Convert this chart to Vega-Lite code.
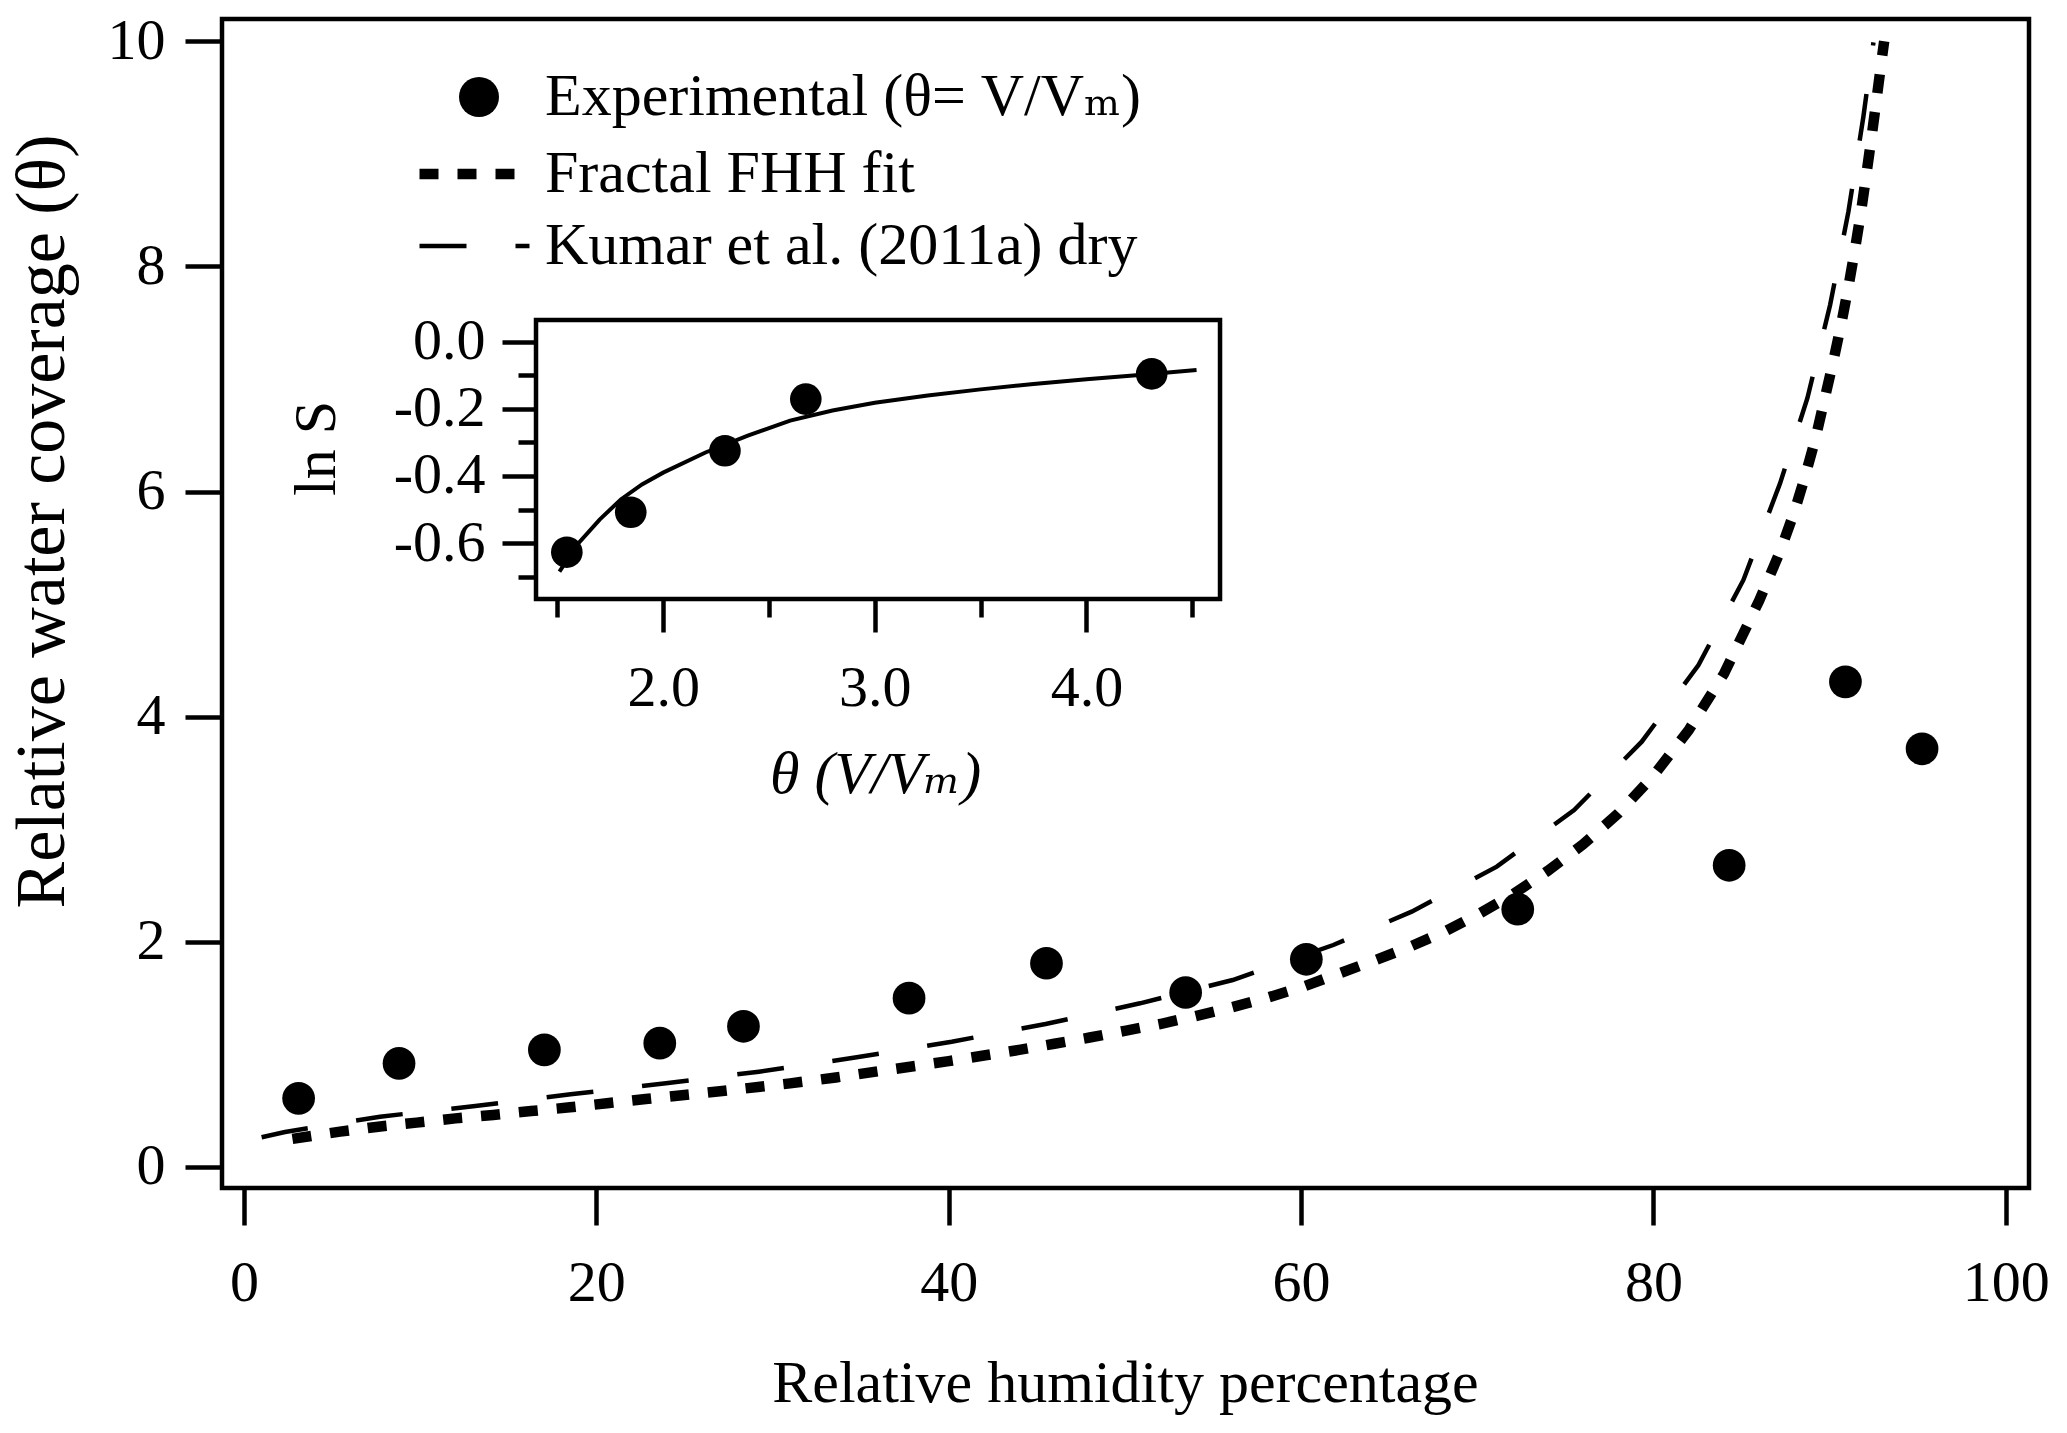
{
  "$schema": "https://vega.github.io/schema/vega-lite/v6.json",
  "width": 1807,
  "height": 1169,
  "autosize": {"type": "none"},
  "padding": {"left": 222, "top": 19, "right": 38, "bottom": 245},
  "background": "white",
  "config": {
    "font": "Liberation Serif, DejaVu Serif, serif",
    "view": {"stroke": "black", "strokeWidth": 4.5},
    "axis": {
      "domain": false,
      "grid": false,
      "tickColor": "black",
      "tickWidth": 4.5,
      "labelFont": "Liberation Serif, DejaVu Serif, serif",
      "labelFontSize": 58,
      "labelColor": "black",
      "labelOverlap": false,
      "labelFlush": false,
      "titleFont": "Liberation Serif, DejaVu Serif, serif",
      "titleFontSize": 60,
      "titleFontWeight": "normal",
      "titleColor": "black"
    },
    "legend": {
      "labelFont": "Liberation Serif, DejaVu Serif, serif",
      "labelFontSize": 60,
      "labelColor": "black",
      "labelLimit": 0,
      "padding": 0
    }
  },
  "datasets": {
    "experimental": [
      {"rh": 3.1, "coverage": 0.61, "series": "exp"},
      {"rh": 8.8, "coverage": 0.92, "series": "exp"},
      {"rh": 17.05, "coverage": 1.04, "series": "exp"},
      {"rh": 23.6, "coverage": 1.1, "series": "exp"},
      {"rh": 28.35, "coverage": 1.25, "series": "exp"},
      {"rh": 37.75, "coverage": 1.5, "series": "exp"},
      {"rh": 45.55, "coverage": 1.81, "series": "exp"},
      {"rh": 53.45, "coverage": 1.55, "series": "exp"},
      {"rh": 60.3, "coverage": 1.845, "series": "exp"},
      {"rh": 72.3, "coverage": 2.29, "series": "exp"},
      {"rh": 84.3, "coverage": 2.68, "series": "exp"},
      {"rh": 90.9, "coverage": 4.31, "series": "exp"},
      {"rh": 95.25, "coverage": 3.715, "series": "exp"}
    ],
    "fits": [
      {"series": "fhh", "rh": 2.75, "coverage": 0.25}, {"series": "fhh", "rh": 5.45, "coverage": 0.314},
      {"series": "fhh", "rh": 7.62, "coverage": 0.358}, {"series": "fhh", "rh": 9.8, "coverage": 0.394},
      {"series": "fhh", "rh": 12.0, "coverage": 0.432}, {"series": "fhh", "rh": 14.15, "coverage": 0.462},
      {"series": "fhh", "rh": 16.3, "coverage": 0.497}, {"series": "fhh", "rh": 18.5, "coverage": 0.53},
      {"series": "fhh", "rh": 20.6, "coverage": 0.566}, {"series": "fhh", "rh": 22.8, "coverage": 0.604},
      {"series": "fhh", "rh": 25.0, "coverage": 0.64}, {"series": "fhh", "rh": 27.15, "coverage": 0.675},
      {"series": "fhh", "rh": 29.3, "coverage": 0.713}, {"series": "fhh", "rh": 31.0, "coverage": 0.743},
      {"series": "fhh", "rh": 33.6, "coverage": 0.795}, {"series": "fhh", "rh": 36.0, "coverage": 0.85},
      {"series": "fhh", "rh": 38.0, "coverage": 0.895}, {"series": "fhh", "rh": 40.0, "coverage": 0.94},
      {"series": "fhh", "rh": 42.0, "coverage": 0.99}, {"series": "fhh", "rh": 44.0, "coverage": 1.04},
      {"series": "fhh", "rh": 46.0, "coverage": 1.095}, {"series": "fhh", "rh": 48.0, "coverage": 1.15},
      {"series": "fhh", "rh": 50.0, "coverage": 1.21}, {"series": "fhh", "rh": 52.0, "coverage": 1.27},
      {"series": "fhh", "rh": 54.0, "coverage": 1.34}, {"series": "fhh", "rh": 56.0, "coverage": 1.415},
      {"series": "fhh", "rh": 58.0, "coverage": 1.5}, {"series": "fhh", "rh": 60.0, "coverage": 1.595},
      {"series": "fhh", "rh": 62.0, "coverage": 1.71}, {"series": "fhh", "rh": 64.0, "coverage": 1.825},
      {"series": "fhh", "rh": 66.0, "coverage": 1.945}, {"series": "fhh", "rh": 68.0, "coverage": 2.08},
      {"series": "fhh", "rh": 70.0, "coverage": 2.24}, {"series": "fhh", "rh": 72.0, "coverage": 2.42},
      {"series": "fhh", "rh": 74.0, "coverage": 2.63}, {"series": "fhh", "rh": 76.0, "coverage": 2.865},
      {"series": "fhh", "rh": 78.0, "coverage": 3.14}, {"series": "fhh", "rh": 80.0, "coverage": 3.475},
      {"series": "fhh", "rh": 82.0, "coverage": 3.88}, {"series": "fhh", "rh": 84.0, "coverage": 4.38},
      {"series": "fhh", "rh": 86.0, "coverage": 5.03}, {"series": "fhh", "rh": 87.2, "coverage": 5.47},
      {"series": "fhh", "rh": 88.0, "coverage": 5.82}, {"series": "fhh", "rh": 88.6, "coverage": 6.13},
      {"series": "fhh", "rh": 89.2, "coverage": 6.47}, {"series": "fhh", "rh": 89.7, "coverage": 6.81},
      {"series": "fhh", "rh": 90.2, "coverage": 7.15}, {"series": "fhh", "rh": 90.65, "coverage": 7.48},
      {"series": "fhh", "rh": 91.07, "coverage": 7.82}, {"series": "fhh", "rh": 91.45, "coverage": 8.16},
      {"series": "fhh", "rh": 91.8, "coverage": 8.5}, {"series": "fhh", "rh": 92.1, "coverage": 8.83},
      {"series": "fhh", "rh": 92.4, "coverage": 9.17}, {"series": "fhh", "rh": 92.68, "coverage": 9.5},
      {"series": "fhh", "rh": 92.96, "coverage": 9.84}, {"series": "fhh", "rh": 93.1, "coverage": 10.0},
      {"series": "kumar", "rh": 1.0, "coverage": 0.264}, {"series": "kumar", "rh": 2.33, "coverage": 0.311},
      {"series": "kumar", "rh": 7.72, "coverage": 0.447}, {"series": "kumar", "rh": 13.13, "coverage": 0.542},
      {"series": "kumar", "rh": 18.54, "coverage": 0.646}, {"series": "kumar", "rh": 23.95, "coverage": 0.744},
      {"series": "kumar", "rh": 29.23, "coverage": 0.847}, {"series": "kumar", "rh": 34.78, "coverage": 0.974},
      {"series": "kumar", "rh": 40.17, "coverage": 1.113}, {"series": "kumar", "rh": 45.5, "coverage": 1.27},
      {"series": "kumar", "rh": 50.86, "coverage": 1.454}, {"series": "kumar", "rh": 56.12, "coverage": 1.661},
      {"series": "kumar", "rh": 61.83, "coverage": 1.972}, {"series": "kumar", "rh": 66.28, "coverage": 2.268},
      {"series": "kumar", "rh": 71.11, "coverage": 2.668}, {"series": "kumar", "rh": 75.5, "coverage": 3.171},
      {"series": "kumar", "rh": 79.34, "coverage": 3.778}, {"series": "kumar", "rh": 82.56, "coverage": 4.459},
      {"series": "kumar", "rh": 85.11, "coverage": 5.215}, {"series": "kumar", "rh": 87.19, "coverage": 6.073},
      {"series": "kumar", "rh": 88.74, "coverage": 6.829}, {"series": "kumar", "rh": 90.03, "coverage": 7.657},
      {"series": "kumar", "rh": 91.07, "coverage": 8.486}, {"series": "kumar", "rh": 91.92, "coverage": 9.33},
      {"series": "kumar", "rh": 92.49, "coverage": 9.99}
    ],
    "inset_points": [
      {"theta": 1.545, "lnS": -0.627},
      {"theta": 1.847, "lnS": -0.508},
      {"theta": 2.292, "lnS": -0.325},
      {"theta": 2.674, "lnS": -0.171},
      {"theta": 4.308, "lnS": -0.096}
    ],
    "inset_fit": [
      {"theta": 1.51, "lnS": -0.685}, {"theta": 1.6, "lnS": -0.6}, {"theta": 1.7, "lnS": -0.53},
      {"theta": 1.8, "lnS": -0.47}, {"theta": 1.9, "lnS": -0.425}, {"theta": 2.0, "lnS": -0.39},
      {"theta": 2.2, "lnS": -0.33}, {"theta": 2.4, "lnS": -0.28}, {"theta": 2.6, "lnS": -0.235},
      {"theta": 2.8, "lnS": -0.205}, {"theta": 3.0, "lnS": -0.182}, {"theta": 3.25, "lnS": -0.16},
      {"theta": 3.5, "lnS": -0.142}, {"theta": 3.75, "lnS": -0.126}, {"theta": 4.0, "lnS": -0.112},
      {"theta": 4.25, "lnS": -0.099}, {"theta": 4.52, "lnS": -0.084}
    ]
  },
  "layer": [
    {
      "encoding": {
        "x": {
          "field": "rh",
          "type": "quantitative",
          "scale": {"domain": [-1.249, 101.32], "nice": false, "zero": false},
          "axis": {
            "values": [0, 20, 40, 60, 80, 100],
            "tickSize": 37,
            "labelPadding": 29,
            "title": "Relative humidity percentage",
            "titleX": 903,
            "titleY": 213,
            "titleAlign": "center",
            "titleBaseline": "alphabetic"
          }
        },
        "y": {
          "field": "coverage",
          "type": "quantitative",
          "scale": {"domain": [-0.1866, 10.198], "nice": false, "zero": false},
          "axis": {
            "values": [0, 2, 4, 6, 8, 10],
            "tickSize": 37,
            "labelPadding": 20,
            "title": "Relative water coverage (θ)",
            "titleFontSize": 70,
            "titleX": -180,
            "titleY": 502,
            "titleAngle": -90,
            "titleAlign": "center",
            "titleBaseline": "middle"
          }
        }
      },
      "layer": [
        {
          "data": {"name": "fits"},
          "mark": {"type": "line", "color": "black", "strokeCap": "butt"},
          "encoding": {
            "strokeDash": {
              "field": "series",
              "type": "nominal",
              "scale": {"domain": ["fhh", "kumar"], "range": [[19, 19], [47, 49]]},
              "legend": {
                "orient": "none",
                "legendX": 192,
                "legendY": 125,
                "title": null,
                "symbolSize": 12100,
                "clipHeight": 60,
                "rowPadding": 12,
                "labelOffset": 10,
                "labelExpr": "datum.value == 'fhh' ? 'Fractal FHH fit' : 'Kumar et al. (2011a) dry'"
              }
            },
            "strokeWidth": {
              "field": "series",
              "type": "ordinal",
              "scale": {"domain": ["fhh", "kumar"], "range": [10.5, 4.5]},
              "legend": {
                "orient": "none",
                "legendX": 192,
                "legendY": 125,
                "title": null,
                "symbolSize": 12100,
                "clipHeight": 60,
                "rowPadding": 12,
                "labelOffset": 10,
                "labelExpr": "datum.value == 'fhh' ? 'Fractal FHH fit' : 'Kumar et al. (2011a) dry'"
              }
            }
          }
        },
        {
          "data": {"name": "experimental"},
          "mark": {"type": "point", "filled": true, "color": "black", "opacity": 1, "size": 1070},
          "encoding": {
            "shape": {
              "field": "series",
              "type": "nominal",
              "scale": {"domain": ["exp"], "range": ["circle"]},
              "legend": {
                "orient": "none",
                "legendX": 227,
                "legendY": 48,
                "title": null,
                "symbolSize": 1600,
                "symbolStrokeWidth": 0,
                "labelOffset": 36,
                "labelExpr": "'Experimental (θ= V/Vₘ)'"
              }
            }
          }
        }
      ]
    },
    {
      "layer": [
        {
          "data": {"values": [{}]},
          "mark": {"type": "rect", "fill": "white", "stroke": "black", "strokeWidth": 4.5},
          "encoding": {
            "x": {"datum": 1.3994, "type": "quantitative", "scale": {"domain": [-0.0841, 8.4528], "nice": false, "zero": false}},
            "x2": {"datum": 4.6309},
            "y": {"datum": 0.0646, "type": "quantitative", "scale": {"domain": [-2.521, 0.9613], "nice": false, "zero": false}},
            "y2": {"datum": -0.7665}
          }
        },
        {
          "data": {"name": "inset_fit"},
          "mark": {"type": "line", "color": "black", "strokeWidth": 4},
          "encoding": {
            "x": {
              "field": "theta",
              "type": "quantitative",
              "scale": {"domain": [-0.0841, 8.4528], "nice": false, "zero": false},
              "axis": {
                "orient": "bottom",
                "offset": -589,
                "values": [1.5, 2, 2.5, 3, 3.5, 4, 4.5],
                "tickSize": {"condition": {"test": "datum.value % 1 == 0", "value": 33}, "value": 18},
                "labelExpr": "datum.value % 1 == 0 ? format(datum.value, '.1f') : ''",
                "labelPadding": 27,
                "title": "θ (V/Vₘ)",
                "titleFontStyle": "italic",
                "titleX": 653,
                "titleY": 193,
                "titleAlign": "center",
                "titleBaseline": "alphabetic"
              }
            },
            "y": {
              "field": "lnS",
              "type": "quantitative",
              "scale": {"domain": [-2.521, 0.9613], "nice": false, "zero": false},
              "axis": {
                "orient": "left",
                "offset": -314,
                "values": [-0.7, -0.6, -0.5, -0.4, -0.3, -0.2, -0.1, 0],
                "tickSize": {"condition": {"test": "round(abs(datum.value) * 10) % 2 == 0", "value": 34}, "value": 18},
                "labelExpr": "round(abs(datum.value) * 10) % 2 == 0 ? replace(format(datum.value, '.1f'), '−', '-') : ''",
                "labelPadding": 17,
                "title": "ln S",
                "titleX": -220,
                "titleY": 429,
                "titleAngle": -90,
                "titleAlign": "center",
                "titleBaseline": "middle"
              }
            }
          }
        },
        {
          "data": {"name": "inset_points"},
          "mark": {"type": "point", "filled": true, "color": "black", "opacity": 1, "size": 1000},
          "encoding": {
            "x": {"field": "theta", "type": "quantitative", "scale": {"domain": [-0.0841, 8.4528], "nice": false, "zero": false}},
            "y": {"field": "lnS", "type": "quantitative", "scale": {"domain": [-2.521, 0.9613], "nice": false, "zero": false}}
          }
        }
      ]
    }
  ],
  "resolve": {"scale": {"x": "independent", "y": "independent"}}
}
